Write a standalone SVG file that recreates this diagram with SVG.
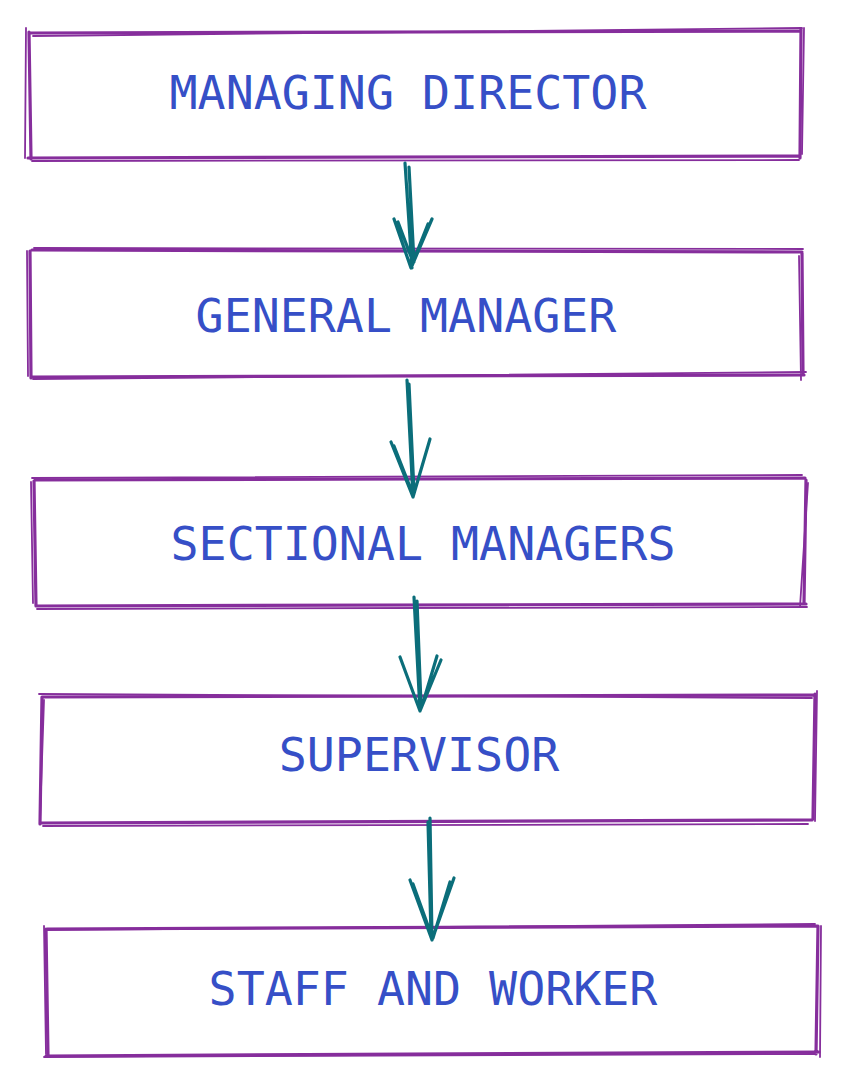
<svg xmlns="http://www.w3.org/2000/svg" width="847" height="1084" viewBox="0 0 847 1084">
<style>
.box{fill:none;stroke:#862e9c;stroke-width:3.2;stroke-linecap:round;stroke-linejoin:round}
.box2{fill:none;stroke:#862e9c;stroke-width:1.8;stroke-linecap:round}
.lbl{font-family:"DejaVu Sans Mono","Liberation Mono",monospace;font-size:46.6px;fill:#364fc7;text-anchor:middle}
.arr{fill:none;stroke:#0b6e7a;stroke-width:3.2;stroke-linecap:round;stroke-linejoin:round}
</style>
<rect width="847" height="1084" fill="#ffffff"/>
<g id="node-md">
<path class="box" d="M30 33 L801 31 M28 158 L800 156 M29 32 L31 159 M801 29 L800 158"/>
<path class="box2" d="M33 36 L802 28 M32 161 L799 160 M26 28 L25 158 M804 28 L802 154"/>
<text class="lbl" x="408" y="109">MANAGING DIRECTOR</text>
</g>
<g id="node-gm">
<path class="box" d="M32 250 L802 252 M31 377 L804 375 M30 251 L31 378 M802 253 L803 374"/>
<path class="box2" d="M34 248 L803 249 M33 379 L806 372 M27 251 L28 376 M799 256 L801 380"/>
<text class="lbl" x="406" y="332">GENERAL MANAGER</text>
</g>
<g id="node-sm">
<path class="box" d="M35 480 L805 478 M36 606 L806 604 M34 481 L36 606 M806 480 L804 603"/>
<path class="box2" d="M32 478 L802 475 M37 609 L807 607 M31 482 L33 603 M808 483 L800 607"/>
<text class="lbl" x="423" y="560">SECTIONAL MANAGERS</text>
</g>
<g id="node-sv">
<path class="box" d="M42 697 L815 695 M40 823 L812 820 M42 697 L40 824 M815 694 L813 819"/>
<path class="box2" d="M39 694 L812 698 M43 826 L808 824 M44 700 L40 820 M817 691 L815 821"/>
<text class="lbl" x="419" y="771">SUPERVISOR</text>
</g>
<g id="node-sw">
<path class="box" d="M47 929 L818 926 M46 1056 L819 1052 M46 929 L48 1056 M818 926 L816 1054"/>
<path class="box2" d="M44 930 L815 924 M44 1057 L815 1054 M44 926 L46 1054 M821 926 L820 1057"/>
<text class="lbl" x="433" y="1005">STAFF AND WORKER</text>
</g>
<g id="connectors">
<path class="arr" d="M405 163 L412 268 M409 167 L414 262 M394 219 L411 268 L432 219 M398 222 L413 262 L428 224"/>
<path class="arr" d="M407 380 L413 497 M409 384 L414 492 M391 442 L413 497 L430 439 M394 446 L412 492"/>
<path class="arr" d="M414 597 L420 711 M417 601 L421 705 M400 657 L420 711 L441 660 M437 656 L422 706"/>
<path class="arr" d="M430 818 L432 940 M428 822 L431 935 M410 880 L432 940 L454 878 M413 884 L431 934 M450 882 L433 938"/>
</g>
</svg>
